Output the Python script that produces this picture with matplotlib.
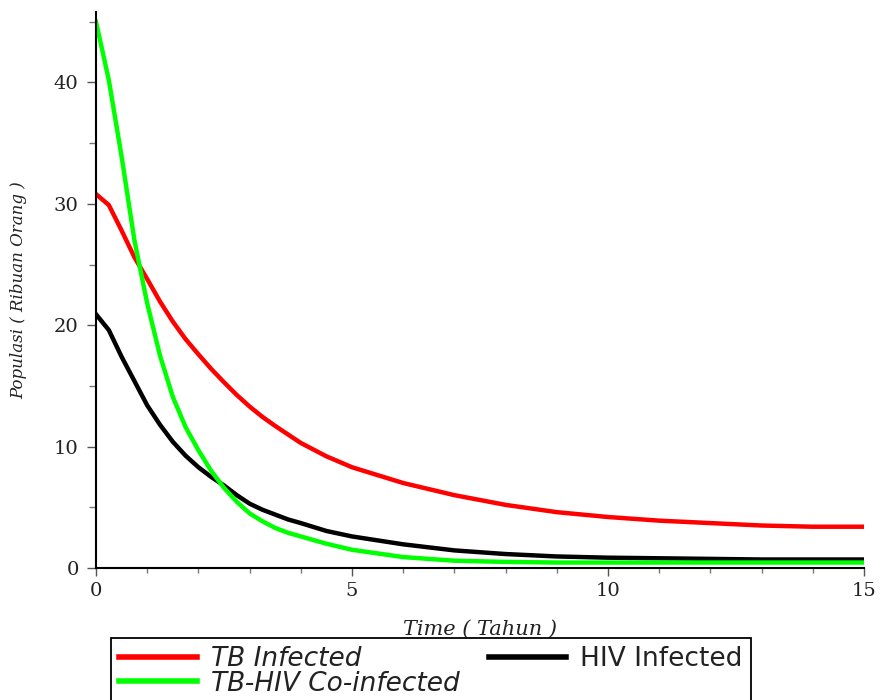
import matplotlib
matplotlib.use("Agg")
import matplotlib.pyplot as plt
from matplotlib.ticker import MultipleLocator

# ---- data ----
t = [0, 0.25, 0.5, 0.75, 1.0, 1.25, 1.5, 1.75, 2.0, 2.25, 2.5, 2.75, 3.0, 3.25,
     3.5, 3.75, 4.0, 4.5, 5.0, 6.0, 7.0, 8.0, 9.0, 10.0, 11.0, 12.0, 13.0, 14.0, 15.0]
tb_infected = [30.8, 29.9, 27.8, 25.6, 23.8, 21.95, 20.3, 18.85, 17.6, 16.4, 15.3,
               14.25, 13.3, 12.45, 11.7, 11.0, 10.3, 9.2, 8.3, 7.0, 6.0, 5.2, 4.6,
               4.2, 3.9, 3.7, 3.5, 3.4, 3.4]
hiv_infected = [20.9, 19.6, 17.4, 15.4, 13.4, 11.8, 10.4, 9.25, 8.3, 7.5, 6.8,
                6.0, 5.3, 4.8, 4.4, 4.0, 3.7, 3.05, 2.6, 1.95, 1.45, 1.15, 0.95,
                0.85, 0.8, 0.75, 0.7, 0.7, 0.7]
co_infected = [45.0, 40.2, 33.9, 27.0, 21.8, 17.5, 14.1, 11.6, 9.7, 8.0, 6.6,
               5.45, 4.5, 3.85, 3.3, 2.9, 2.6, 2.0, 1.5, 0.9, 0.6, 0.5, 0.45,
               0.45, 0.45, 0.45, 0.45, 0.45, 0.45]

x_label = "Time ( Tahun )"
y_label = "Populasi ( Ribuan Orang )"
labels = ["TB Infected", "TB-HIV Co-infected", "HIV Infected"]

# ---- figure ----
fig = plt.figure(figsize=(8.8, 7.0), dpi=100)
ax = fig.add_axes([96 / 880, 132 / 700, 768 / 880, 556 / 700])

lw = 3.2
l_tb, = ax.plot(t, tb_infected, color="#ff0000", lw=lw, solid_joinstyle="round")
l_hiv, = ax.plot(t, hiv_infected, color="#000000", lw=lw, solid_joinstyle="round")
l_co, = ax.plot(t, co_infected, color="#00ff00", lw=lw, solid_joinstyle="round")

ax.set_xlim(0, 15)
ax.set_ylim(0, 45.8)

for s in ("top", "right"):
    ax.spines[s].set_visible(False)
for s in ("left", "bottom"):
    ax.spines[s].set_linewidth(1.5)
    ax.spines[s].set_color("black")

ax.xaxis.set_major_locator(MultipleLocator(5))
ax.xaxis.set_minor_locator(MultipleLocator(1))
ax.yaxis.set_major_locator(MultipleLocator(10))
ax.yaxis.set_minor_locator(MultipleLocator(5))

ax.tick_params(axis="x", which="major", length=6, width=1, color="#555555",
               pad=4, direction="out")
ax.tick_params(axis="x", which="minor", length=3.5, width=1, color="#777777",
               direction="out")
ax.tick_params(axis="y", which="major", length=6.5, width=1, color="#555555",
               pad=6, direction="out")
ax.tick_params(axis="y", which="minor", length=5, width=1, color="#777777",
               direction="out")

for lab in ax.get_xticklabels() + ax.get_yticklabels():
    lab.set_fontfamily("DejaVu Serif")
    lab.set_fontsize(14)
    lab.set_color("#222222")

ax.set_xlabel(x_label, fontfamily="DejaVu Serif", fontstyle="italic",
              fontsize=15, color="#222222")
ax.xaxis.set_label_coords(0.5, -0.094)
ax.set_ylabel(y_label, fontfamily="DejaVu Serif", fontstyle="italic",
              fontsize=12, color="#222222")
ax.yaxis.set_label_coords(-0.089, 0.5)

leg = fig.legend([l_tb, l_co, l_hiv], labels, loc="upper left",
                 bbox_to_anchor=(111 / 880, 1 - 638 / 700),
                 bbox_transform=fig.transFigure, ncol=2, borderaxespad=0,
                 fontsize=19, handlelength=2.95, handletextpad=0.53,
                 columnspacing=1.1, labelspacing=-0.05, borderpad=0.3,
                 fancybox=False, framealpha=1, edgecolor="black")
leg.get_frame().set_linewidth(1.3)
for txt in leg.get_texts():
    txt.set_color("#222222")
    if txt.get_text() != "HIV Infected":
        txt.set_fontstyle("italic")
for h in leg.legend_handles:
    h.set_linewidth(4)

fig.savefig("out.png", dpi=100)
